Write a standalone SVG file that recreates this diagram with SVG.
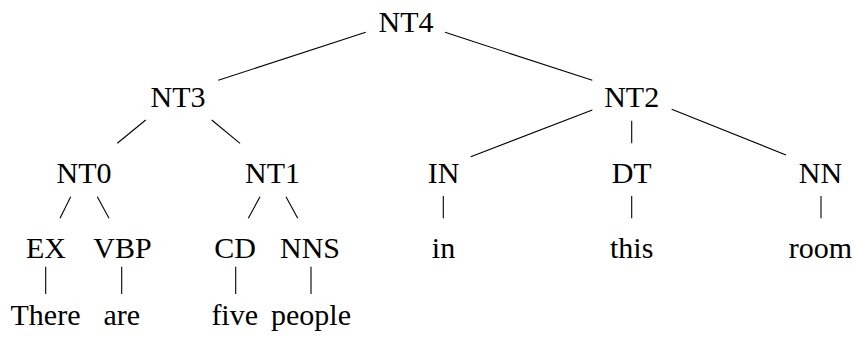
<svg xmlns="http://www.w3.org/2000/svg" width="856" height="343" viewBox="0 0 856 343">
<style>
text{font-family:'Liberation Serif','Times New Roman',serif;font-size:30px;fill:#000;text-anchor:middle}
line{stroke:#000;stroke-width:1.1}
</style>
<rect width="856" height="343" fill="#fff"/>
<g id="connectors">
<line x1="365.7" y1="32.3" x2="218.3" y2="80.3"/>
<line x1="445" y1="32.3" x2="592.3" y2="80.3"/>
<line x1="145.7" y1="120" x2="117.3" y2="143.3"/>
<line x1="211.7" y1="120" x2="240" y2="143.3"/>
<line x1="592.3" y1="110" x2="470.7" y2="156.7"/>
<line x1="631.7" y1="120.7" x2="631.7" y2="143.3"/>
<line x1="671.7" y1="109.3" x2="786" y2="155"/>
<line x1="70.7" y1="196.7" x2="60" y2="218.3"/>
<line x1="97.3" y1="196.7" x2="109" y2="218.3"/>
<line x1="260" y1="196.7" x2="248.3" y2="218.3"/>
<line x1="286" y1="196.7" x2="297.7" y2="218.3"/>
<line x1="443.3" y1="196" x2="443.3" y2="218.3"/>
<line x1="631.7" y1="196" x2="631.7" y2="218.3"/>
<line x1="821" y1="196" x2="821" y2="218.3"/>
<line x1="45.7" y1="266.7" x2="45.7" y2="294"/>
<line x1="121.7" y1="266.7" x2="121.7" y2="294"/>
<line x1="235.7" y1="266.7" x2="235.7" y2="294"/>
<line x1="311" y1="266.7" x2="311" y2="294"/>
</g>
<g id="NT4"><text x="406" y="32">NT4</text></g>
<g id="NT3"><text x="178" y="107">NT3</text></g>
<g id="NT2"><text x="631.7" y="107">NT2</text></g>
<g id="NT0"><text x="84" y="183">NT0</text></g>
<g id="NT1"><text x="272.5" y="183">NT1</text></g>
<g id="IN"><text x="443.5" y="183">IN</text></g>
<g id="DT"><text x="631.7" y="183">DT</text></g>
<g id="NN"><text x="820.5" y="183">NN</text></g>
<g id="EX"><text x="46" y="257.5">EX</text></g>
<g id="VBP"><text x="122.5" y="257.5">VBP</text></g>
<g id="CD"><text x="235" y="257.5">CD</text></g>
<g id="NNS"><text x="310" y="257.5">NNS</text></g>
<g id="w-in"><text x="443.5" y="258">in</text></g>
<g id="w-this"><text x="631.7" y="258">this</text></g>
<g id="w-room"><text x="820.5" y="258">room</text></g>
<g id="w-There"><text x="45.5" y="325">There</text></g>
<g id="w-are"><text x="121.7" y="325">are</text></g>
<g id="w-five"><text x="234.7" y="325">five</text></g>
<g id="w-people"><text x="311" y="325">people</text></g>
</svg>
